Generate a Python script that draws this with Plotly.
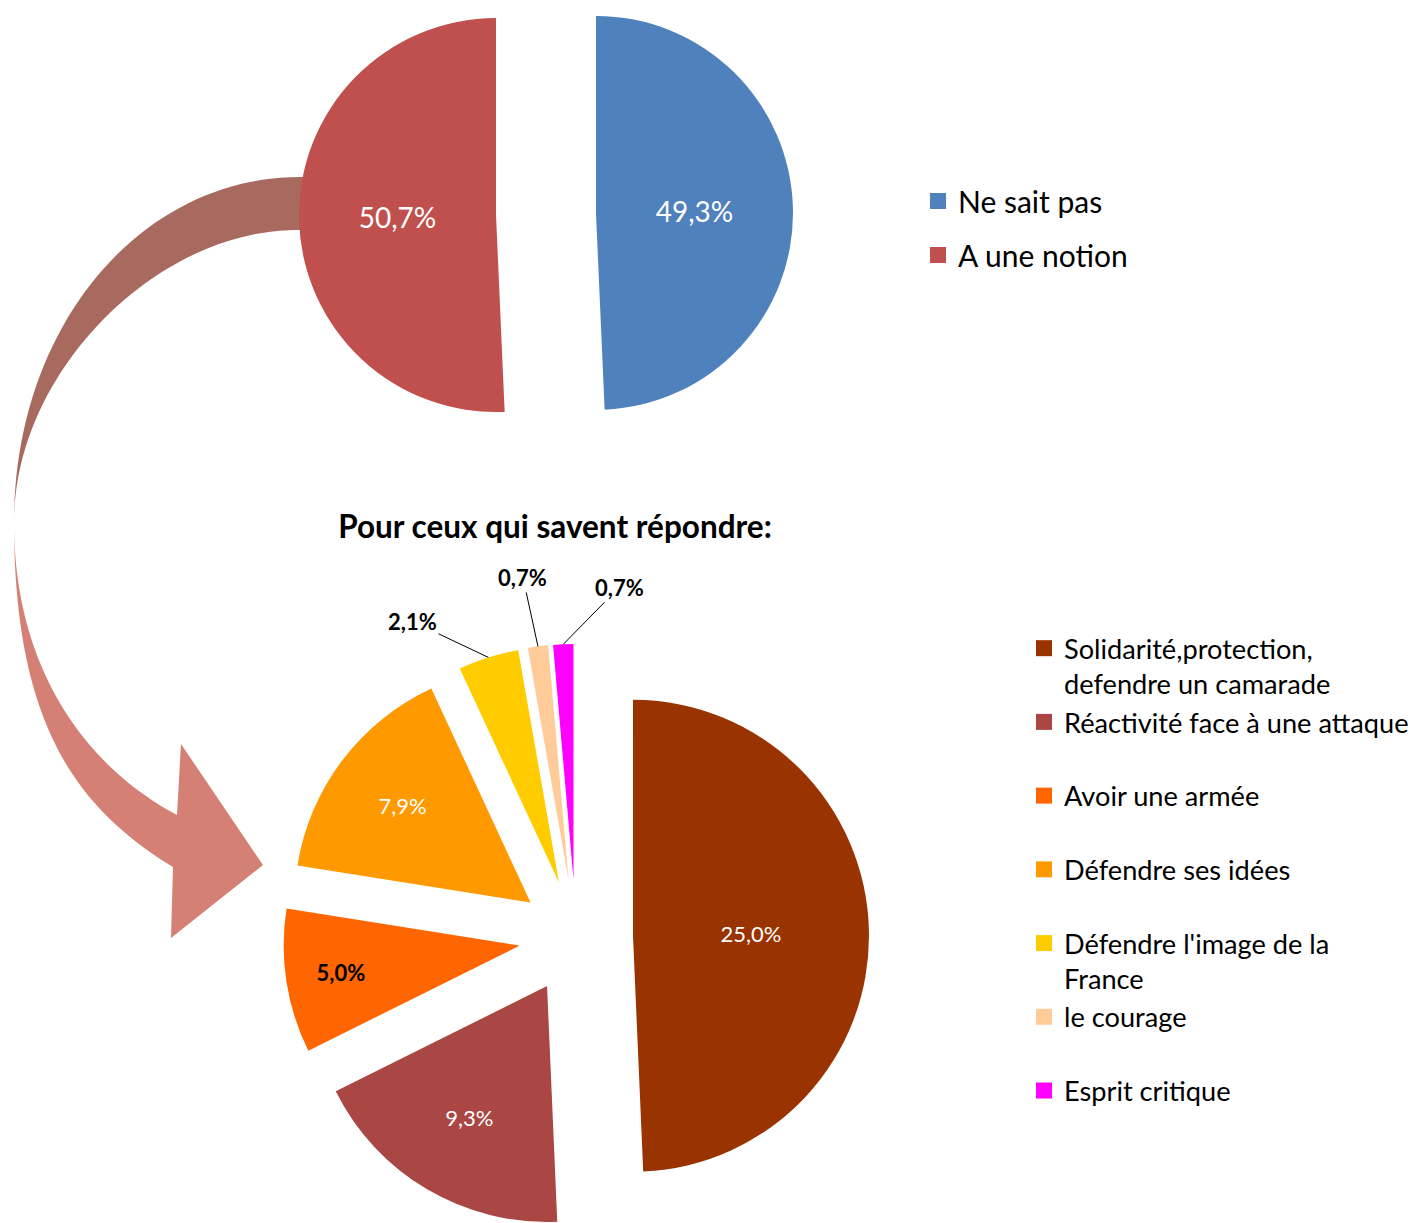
import math
import plotly.graph_objects as go

W, H = 1419, 1223
FONT = "Lato"

# ---------------- data ----------------
top_labels = ["Ne sait pas", "A une notion"]
top_values = [49.3, 50.7]
top_colors = ["#4F81BD", "#C0504D"]

bottom_title = "Pour ceux qui savent répondre:"
bottom_labels = [
    "Solidarité,protection,<br>defendre un camarade",
    "Réactivité face à une attaque",
    "Avoir une armée",
    "Défendre ses idées",
    "Défendre l'image de la<br>France",
    "le courage",
    "Esprit critique",
]
bottom_values = [25.0, 9.3, 5.0, 7.9, 2.1, 0.7, 0.7]
bottom_colors = ["#993300", "#AA4643", "#FF6600", "#FF9900", "#FFCC00", "#FFCC99", "#FF00FF"]


def fmt(v):
    return f"{v:.1f}".replace(".", ",") + "%"


def slice_geometry(values, cx, cy, explode):
    total = sum(values)
    out = []
    start = 0.0
    for v in values:
        span = v / total * 360.0
        mid = math.radians(start + span / 2)
        out.append((cx + explode * math.sin(mid), cy - explode * math.cos(mid), mid))
        start += span
    return out


def domain_for(px, py, r):
    x0 = max(0.0, (px - r) / W)
    x1 = min(1.0, (px + r) / W)
    y0 = max(0.0, 1 - (py + r) / H)
    y1 = min(1.0, 1 - (py - r) / H)
    return dict(x=[x0, x1], y=[y0, y1])


fig = go.Figure()

# ---------------- top pie (exploded) ----------------
TOP_C = (546, 214)
TOP_R = 197
TOP_EXPLODE = 50
top_geo = slice_geometry(top_values, TOP_C[0], TOP_C[1], TOP_EXPLODE)
for k, (px, py, mid) in enumerate(top_geo):
    fig.add_trace(go.Pie(
        values=top_values,
        labels=top_labels,
        sort=False,
        direction="clockwise",
        rotation=0,
        marker=dict(colors=[c if i == k else "rgba(0,0,0,0)" for i, c in enumerate(top_colors)],
                    line=dict(width=0)),
        text=[fmt(v) if i == k else "" for i, v in enumerate(top_values)],
        textinfo="text",
        textposition="inside",
        insidetextorientation="horizontal",
        textfont=dict(family=FONT, size=28, color="white"),
        domain=domain_for(px, py, TOP_R),
        hoverinfo="skip",
        showlegend=False,
    ))

# ---------------- bottom pie (exploded) ----------------
BOT_C = (576, 937)
BOT_R = 236
BOT_EXPLODE = 57
bot_geo = slice_geometry(bottom_values, BOT_C[0], BOT_C[1], BOT_EXPLODE)
for k, (px, py, mid) in enumerate(bot_geo):
    v = bottom_values[k]
    small = v < 3
    dark = bottom_colors[k] == "#FF6600"
    label_txt = ("<b>" + fmt(v) + "</b>") if dark else fmt(v)
    fig.add_trace(go.Pie(
        values=bottom_values,
        labels=[l.replace("<br>", " ") for l in bottom_labels],
        sort=False,
        direction="clockwise",
        rotation=0,
        marker=dict(colors=[c if i == k else "rgba(0,0,0,0)" for i, c in enumerate(bottom_colors)],
                    line=dict(width=0)),
        text=[label_txt if (i == k and not small) else "" for i in range(len(bottom_values))],
        textinfo="text",
        textposition="none" if small else "inside",
        insidetextorientation="horizontal",
        textfont=dict(family=FONT, size=22, color="black" if dark else "white"),
        domain=domain_for(px, py, BOT_R),
        hoverinfo="skip",
        showlegend=False,
    ))

# outside labels for small slices with leader lines
label_offsets = {4: (-76, -36), 5: (-15, -69), 6: (56, -57)}
for k, (ax, ay) in label_offsets.items():
    px, py, mid = bot_geo[k]
    ex = px + BOT_R * math.sin(mid)
    ey = py - BOT_R * math.cos(mid)
    fig.add_annotation(
        x=ex / W, y=1 - ey / H, xref="paper", yref="paper",
        text="<b>" + fmt(bottom_values[k]) + "</b>",
        showarrow=True, arrowhead=0, arrowwidth=1, arrowcolor="black",
        ax=ax, ay=ay, standoff=0,
        font=dict(family=FONT, size=22, color="black"),
    )

# ---------------- legend entries ----------------
for lab, col in zip(top_labels, top_colors):
    fig.add_trace(go.Scatter(
        x=[None], y=[None], mode="markers", name=lab, legend="legend",
        legendgroup="t_" + lab,
        marker=dict(symbol="square", size=16, color=col), hoverinfo="skip",
    ))
for lab, col in zip(bottom_labels, bottom_colors):
    txt = lab if "<br>" in lab else lab + "<br> "
    fig.add_trace(go.Scatter(
        x=[None], y=[None], mode="markers", name=txt, legend="legend2",
        legendgroup="b_" + lab,
        marker=dict(symbol="square", size=16, color=col), hoverinfo="skip",
    ))


# ---------------- curved arrow decoration (cubic Bezier edges) ----------------
def bezier(p0, p1, p2, p3, n=48):
    out = []
    for i in range(n + 1):
        t = i / n
        u = 1 - t
        out.append((u ** 3 * p0[0] + 3 * u * u * t * p1[0] + 3 * u * t * t * p2[0] + t ** 3 * p3[0],
                    u ** 3 * p0[1] + 3 * u * u * t * p1[1] + 3 * u * t * t * p2[1] + t ** 3 * p3[1]))
    return out


def to_path(pts):
    return "M " + " L ".join(f"{x / W:.5f},{1 - y / H:.5f}" for x, y in pts) + " Z"


pinch = (14, 522)
upper_outer = bezier((300, 177), (140, 177), (14, 327), pinch)
upper_inner = bezier((297, 230), (157, 230), (14, 372), pinch)[::-1]
upper = [(316, 177)] + upper_outer + upper_inner + [(316, 230)]

d = (0.854, 0.52)
lower_outer = bezier(pinch, (14, 722), (173 - 115 * d[0], 867 - 115 * d[1]), (173, 867))
head = [(171, 938), (263, 865), (181, 744)]
e = (0.884, 0.468)
lower_inner = bezier((177, 815), (177 - 100 * e[0], 815 - 100 * e[1]), (14, 672), pinch)
lower = lower_outer + head + lower_inner

fig.add_shape(type="path", path=to_path(upper), xref="paper", yref="paper",
              fillcolor="#A8695E", line=dict(width=0), layer="below")
fig.add_shape(type="path", path=to_path(lower), xref="paper", yref="paper",
              fillcolor="#D48075", line=dict(width=0), layer="below")

# ---------------- layout ----------------
fig.update_layout(
    width=W, height=H,
    autosize=False,
    margin=dict(l=0, r=0, t=0, b=0),
    paper_bgcolor="white",
    plot_bgcolor="rgba(0,0,0,0)",
    xaxis=dict(visible=False),
    yaxis=dict(visible=False),
    font=dict(family=FONT, color="black"),
    title=dict(
        text="<b>" + bottom_title + "</b>",
        x=555 / W, y=1 - 527 / H, xref="paper", yref="paper",
        xanchor="center", yanchor="middle",
        font=dict(family=FONT, size=31.5, color="black"),
    ),
    legend=dict(
        x=918 / W, y=1 - 175 / H, xanchor="left", yanchor="top",
        font=dict(family=FONT, size=30, color="black"),
        traceorder="grouped", tracegroupgap=12,
        bgcolor="rgba(0,0,0,0)",
    ),
    legend2=dict(
        x=1024 / W, y=1 - 624 / H, xanchor="left", yanchor="top",
        font=dict(family=FONT, size=27.2, color="black"),
        traceorder="grouped", tracegroupgap=0, valign="top",
        bgcolor="rgba(0,0,0,0)",
    ),
    showlegend=True,
)

fig.write_html("out.html")
